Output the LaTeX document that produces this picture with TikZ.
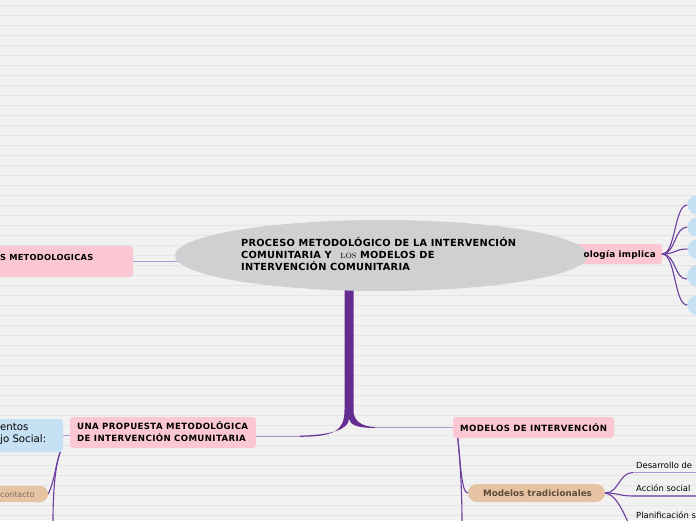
\documentclass[tikz,border=0pt]{standalone}
\usepackage{fontspec}
\newfontfamily\dv{DejaVu Sans}
\newfontfamily\dvs[LetterSpace=4.5]{DejaVu Sans}
\newfontfamily\dvc[LetterSpace=2.5]{DejaVu Sans}
\newfontfamily\dvl[LetterSpace=3]{DejaVu Sans}
\usetikzlibrary{shapes.geometric}
\definecolor{bgc}{HTML}{F1F1F1}
\definecolor{gridc}{HTML}{E5E5E5}
\definecolor{pinkc}{HTML}{FAC7D2}
\definecolor{bluec}{HTML}{C6E0F4}
\definecolor{tanc}{HTML}{E6C3A3}
\definecolor{ellc}{HTML}{D0D0D2}
\definecolor{trunkc}{HTML}{662D91}
\definecolor{thinc}{HTML}{AE97D0}
\definecolor{branchc}{HTML}{6B3D9E}
\definecolor{tantext}{HTML}{5E4B3B}
\tikzset{
  pinkbox/.style={fill=pinkc, rounded corners=3pt, inner sep=0pt},
  bluebox/.style={fill=bluec, rounded corners=3pt, inner sep=0pt},
  pill/.style={fill=tanc, rounded corners=8pt, inner sep=0pt},
  bigtxt/.style={font=\dvc\bfseries\fontsize{9.8}{12}\selectfont, align=left, inner sep=0pt},
  boxtxt/.style={font=\dvs\bfseries\fontsize{8.6}{12}\selectfont, align=left, inner sep=0pt},
  plaintxt/.style={font=\dv\fontsize{8.4}{12}\selectfont, align=left, inner sep=0pt},
  thinline/.style={draw=thinc, line width=0.9pt},
  branch/.style={draw=branchc, line width=1.1pt},
  circ/.style={circle, fill=bluec, inner sep=0pt}
}
\begin{document}
\begin{tikzpicture}[x=1pt,y=-1pt]
\useasboundingbox (0,0) rectangle (696,520);
\fill[bgc] (0,0) rectangle (696,520);
\foreach \k in {0,...,51} { \draw[gridc, line width=0.8pt] (0,5.5+10*\k) -- (696,5.5+10*\k); }

% nodes (boxes)
\node[pinkbox, minimum width=153pt, minimum height=31pt] (lbox) at (56.5,261.5) {};
\node[pinkbox, minimum width=90pt, minimum height=20pt] (rbox) at (617,254) {};
\node[pinkbox, minimum width=186pt, minimum height=31pt] (pbox) at (163,432.5) {};
\node[bluebox, minimum width=73pt, minimum height=33pt] (bbox) at (26.5,435.5) {};
\node[pill, minimum width=63pt, minimum height=16pt] (cpill) at (16.5,494) {};
\node[pinkbox, minimum width=161pt, minimum height=21pt] (mbox) at (533.5,427.5) {};
\node[pill, minimum width=137pt, minimum height=18pt, rounded corners=9pt] (tpill) at (536.5,493) {};

% circles on the right
\node[circ, minimum size=20pt] (c1) at (697.5,205) {};
\node[circ, minimum size=19pt] (c2) at (697,227) {};
\node[circ, minimum size=19pt] (c3) at (697,249) {};
\node[circ, minimum size=23pt] (c4) at (698.5,276) {};
\node[circ, minimum size=20pt] (c5) at (697.5,305) {};

\coordinate (rj) at (662,254);
\draw[branch] (rj) .. controls (676,254) and (674,205) .. (c1.west);
\draw[branch] (rj) .. controls (676,254) and (674,227) .. (c2.west);
\draw[branch] (rj) .. controls (676,254) and (674,249) .. (c3.west);
\draw[branch] (rj) .. controls (676,254) and (674,279) .. ([yshift=-3pt]c4.west);
\draw[branch] (rj) .. controls (676,254) and (674,305) .. (c5.west);

% trunk
\fill[trunkc] (344.5,285) -- (344.5,410)
  .. controls (344.5,431) and (334,436.5) .. (300,436.8) -- (300,435.6)
  .. controls (332,435.2) and (348.5,429) .. (349,419)
  .. controls (350,425) and (358,428) .. (375,428) -- (375,427)
  .. controls (360,426.5) and (353.5,420) .. (353.5,410) -- (353.5,285) -- cycle;
\coordinate (lj) at (300,436.2);
\coordinate (rjj) at (375,427.5);
\draw[thinline] (lj) -- (pbox.east |- lj);
\draw[thinline] (rjj) -- (mbox.west |- rjj);
\draw[thinline] (pbox.west |- 0,435) -- (bbox.east |- 0,435);
\draw[thinline] (lbox.east) -- (200,261.5);

% central ellipse
\node[ellipse, fill=ellc, minimum width=413pt, minimum height=71pt, inner sep=0pt] (core) at (381.5,255.5) {};
\node[bigtxt, anchor=north west] (coretxt) at (241,237.3) {PROCESO METODOLÓGICO DE LA INTERVENCIÓN\\COMUNITARIA Y \hspace{5pt}{\rmfamily\mdseries\fontsize{10}{12}\selectfont\textsc{los}} MODELOS DE\\INTERVENCIÓN COMUNITARIA};

% texts
\node[boxtxt, font=\dvl\bfseries\fontsize{8.3}{12}\selectfont, anchor=west] (ltxt) at (0,257) {S METODOLOGICAS};
\node[boxtxt, font=\dvl\bfseries\fontsize{8.8}{12}\selectfont, anchor=east] (rtxt) at (656,254.5) {ología implica};
\node[boxtxt, anchor=north west] (ptxt) at (77,421) {UNA PROPUESTA METODOLÓGICA\\DE INTERVENCIÓN COMUNITARIA};
\node[plaintxt, font=\dv\fontsize{10.2}{12}\selectfont, anchor=north west] (btxt) at (0,423.5) {entos\\jo Social:};
\node[plaintxt, font=\dv\fontsize{7.9}{12}\selectfont, text=tantext!80, anchor=west] (ctxt) at (0,494.5) {contacto};
\node[boxtxt, anchor=west] (mtxt) at (460,428) {MODELOS DE INTERVENCIÓN};
\node[boxtxt, text=tantext, font=\dv\bfseries\fontsize{8.8}{12}\selectfont] (ttxt) at (537.5,493.5) {Modelos tradicionales};
\node[plaintxt, anchor=west] (d1) at (636,465) {Desarrollo de};
\node[plaintxt, anchor=west] (d2) at (636,488) {Acción social};
\node[plaintxt, anchor=west] (d3) at (636,515.5) {Planificación s};

% left lower branches
\draw[branch] ([xshift=-3pt]bbox.south east) .. controls (56,462) and (55,480) .. (cpill.east);
\draw[branch] ([xshift=-3pt]bbox.south east) .. controls (54,470) and (53,500) .. (53,522);
% right lower branches
\draw[branch] ([xshift=5pt]mbox.south west) .. controls (461,470) and (462,493) .. (tpill.west);
\draw[branch] ([xshift=5pt]mbox.south west) .. controls (461,470) and (462,500) .. (462,522);
% from tpill
\coordinate (u1) at (633,472.5);
\coordinate (u2) at (633,496);
\draw[branch] (tpill.east) .. controls (619,493) and (619,472.5) .. (u1);
\draw[thinline] (u1) -- (696,472.5);
\draw[branch] (tpill.east) .. controls (618,493) and (620,496) .. (u2) -- (696,496);
\draw[branch] (tpill.east) .. controls (615,495) and (620,505) .. (628,522);
\end{tikzpicture}
\end{document}
